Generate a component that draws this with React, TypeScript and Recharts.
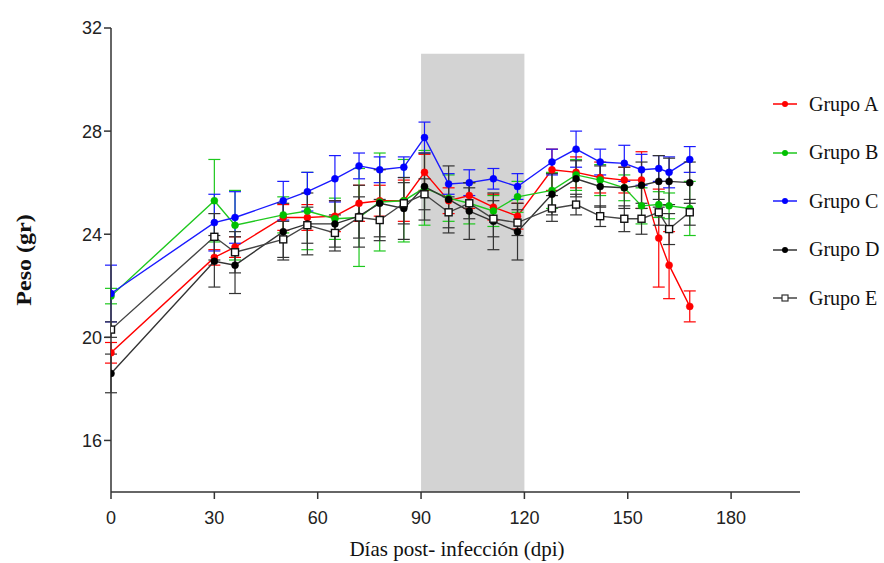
import React from "react";
import {
  LineChart,
  Line,
  XAxis,
  YAxis,
  ErrorBar,
  ReferenceArea,
} from "recharts";

// días post-infección
const days = [0, 30, 36, 50, 57, 65, 72, 78, 85, 91, 98, 104, 111, 118, 128, 135, 142, 149, 154, 159, 162, 168];

const grupoA = [19.4, 23.1, 23.5, 24.65, 24.65, 24.7, 25.2, 25.3, 25.3, 26.4, 25.3, 25.5, 25.05, 24.7, 26.5, 26.4, 26.2, 26.1, 26.1, 23.85, 22.8, 21.2];
const grupoB = [21.6, 25.3, 24.35, 24.75, 24.9, 24.6, 24.65, 25.25, 25.3, 25.8, 25.4, 25.2, 24.9, 25.45, 25.7, 26.3, 26.1, 25.8, 25.1, 25.15, 25.1, 25.0];
const grupoC = [21.7, 24.45, 24.65, 25.3, 25.65, 26.15, 26.65, 26.5, 26.6, 27.75, 25.95, 26.0, 26.15, 25.85, 26.8, 27.3, 26.8, 26.75, 26.5, 26.55, 26.4, 26.9];
const grupoD = [18.6, 22.95, 22.8, 24.1, 24.4, 24.4, 24.7, 25.2, 25.0, 25.85, 25.35, 24.9, 24.5, 24.1, 25.55, 26.15, 25.85, 25.8, 25.9, 26.05, 26.05, 26.0];
const grupoE = [20.3, 23.9, 23.3, 23.8, 24.35, 24.05, 24.65, 24.55, 25.2, 25.55, 24.85, 25.2, 24.6, 24.45, 25.0, 25.15, 24.7, 24.6, 24.6, 24.85, 24.2, 24.85];

// error (±)
const errA = [0.4, 0.3, 0.4, 0.5, 0.5, 0.6, 0.7, 0.6, 0.8, 0.7, 0.5, 0.5, 0.5, 0.5, 0.8, 0.6, 0.6, 0.5, 1.1, 1.9, 1.3, 0.6];
const errB = [0.3, 1.6, 1.35, 0.7, 1.5, 0.8, 1.9, 1.9, 1.6, 1.45, 0.9, 0.8, 0.6, 0.6, 0.7, 0.6, 0.6, 0.5, 0.7, 0.5, 0.5, 1.05];
const errC = [1.1, 1.1, 1.0, 0.75, 0.75, 0.9, 0.5, 0.5, 0.4, 0.6, 0.4, 0.5, 0.4, 0.5, 0.5, 0.7, 0.5, 0.7, 0.6, 0.5, 0.6, 0.5];
const errD = [0.75, 1.0, 1.1, 1.1, 1.2, 0.9, 1.2, 1.3, 1.2, 1.3, 1.3, 1.1, 1.1, 1.1, 0.8, 0.7, 0.8, 0.8, 0.9, 1.0, 0.9, 0.8];
const errE = [0.3, 0.9, 0.8, 0.7, 0.7, 0.7, 0.8, 0.8, 0.8, 0.6, 0.6, 0.6, 0.7, 0.5, 0.5, 0.4, 0.4, 0.5, 0.6, 0.5, 0.6, 0.5];

const xTicks = [0, 30, 60, 90, 120, 150, 180];
const yTicks = [16, 20, 24, 28, 32];

const series = [
  { key: "A", name: "Grupo A", values: grupoA, err: errA, color: "#ff0000", dot: "#ff0000" },
  { key: "B", name: "Grupo B", values: grupoB, err: errB, color: "#1ec81e", dot: "#00c000" },
  { key: "C", name: "Grupo C", values: grupoC, err: errC, color: "#1a1aff", dot: "#0000ff" },
  { key: "D", name: "Grupo D", values: grupoD, err: errD, color: "#333333", dot: "#000000" },
  { key: "E", name: "Grupo E", values: grupoE, err: errE, color: "#444444", dot: "square" },
];

const data = days.map((d, i) => {
  const row: Record<string, number> = { day: d };
  series.forEach((s) => {
    row[s.key] = s.values[i];
    row[s.key + "err"] = s.err[i];
  });
  return row;
});

const serif = "'Liberation Serif', 'Times New Roman', serif";

const tickFont = {
  fontFamily: "'Liberation Sans Narrow', Arial, sans-serif",
  fontSize: 18,
  fill: "#222",
};

const squareDot = (props: any) => {
  const { cx, cy, index } = props;
  if (cx == null || cy == null) return <g key={"e" + index} />;
  return (
    <rect key={"e" + index} x={cx - 3.5} y={cy - 3.5} width={7} height={7} fill="#fff" stroke="#111" strokeWidth={1.4} />
  );
};

function SideLegend() {
  return (
    <div
      style={{
        position: "absolute",
        left: 770,
        top: 80,
        width: 114,
        fontFamily: serif,
        fontSize: 20,
        color: "#111",
      }}
    >
      {series.map((s) => (
        <div key={s.key} style={{ display: "flex", alignItems: "center", height: 48.5 }}>
          <svg width={34} height={12} style={{ marginRight: 5 }}>
            <line x1={3} y1={6} x2={27} y2={6} stroke={s.color} strokeWidth={2} opacity={0.75} />
            {s.dot === "square" ? (
              <rect x={12} y={3} width={6} height={6} fill="#fff" stroke="#333" strokeWidth={1.2} />
            ) : (
              <circle cx={15} cy={6} r={3} fill={s.dot} />
            )}
          </svg>
          <span>{s.name}</span>
        </div>
      ))}
    </div>
  );
}

export default function App() {
  return (
    <div style={{ position: "absolute", left: 0, top: 0, width: 884, height: 563, background: "#fff" }}>
      <LineChart
        width={884}
        height={563}
        data={data}
        margin={{ top: 28, right: 84, left: 51, bottom: 41 }}
      >
        <ReferenceArea x1={90} x2={120} y1={14} y2={31} fill="#d3d3d3" fillOpacity={1} stroke="none" ifOverflow="visible" />
        <XAxis
          dataKey="day"
          type="number"
          domain={[0, 200]}
          ticks={xTicks}
          allowDataOverflow
          height={30}
          tickSize={7}
          tickMargin={12}
          stroke="#333"
          strokeWidth={1.5}
          tick={tickFont}
        />
        <YAxis
          type="number"
          domain={[14, 32]}
          ticks={yTicks}
          allowDataOverflow
          width={60}
          tickSize={7}
          tickMargin={2}
          stroke="#333"
          strokeWidth={1.5}
          tick={tickFont}
        />
        {series.map((s) => (
          <Line
            key={s.key}
            dataKey={s.key}
            name={s.name}
            type="linear"
            stroke={s.color}
            strokeWidth={1.4}
            isAnimationActive={false}
            dot={
              s.dot === "square"
                ? squareDot
                : { r: 3.5, fill: s.dot, stroke: s.dot, strokeWidth: 0.5 }
            }
            activeDot={false}
          >
            <ErrorBar
              dataKey={s.key + "err"}
              direction="y"
              width={6}
              stroke={s.dot === "square" ? "#333" : s.color}
              strokeWidth={1.2}
              isAnimationActive={false}
            />
          </Line>
        ))}
      </LineChart>
      <SideLegend />
      <div
        style={{
          position: "absolute",
          left: 24,
          top: 260,
          transform: "translate(-50%, -50%) rotate(-90deg) scaleX(1.2)",
          fontFamily: serif,
          fontWeight: "bold",
          fontSize: 20,
          whiteSpace: "nowrap",
          color: "#111",
        }}
      >
        Peso (gr)
      </div>
      <div
        style={{
          position: "absolute",
          left: 457,
          top: 549,
          transform: "translate(-50%, -50%)",
          fontFamily: serif,
          fontSize: 21,
          whiteSpace: "nowrap",
          color: "#111",
        }}
      >
        Días post- infección (dpi)
      </div>
    </div>
  );
}
